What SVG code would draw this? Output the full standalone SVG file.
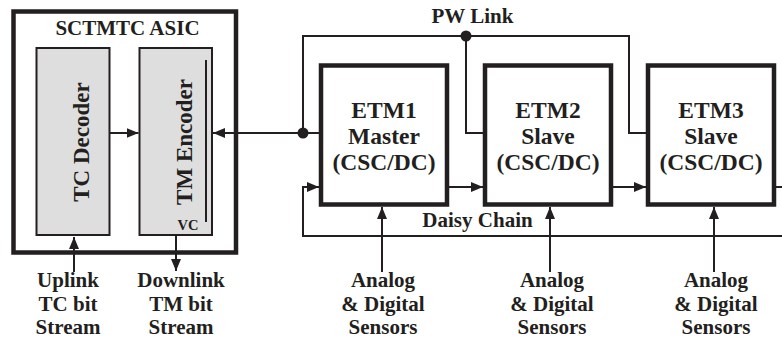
<svg xmlns="http://www.w3.org/2000/svg" width="782" height="339" viewBox="0 0 782 339">
  <style>
    .t { font-family: "Liberation Serif", "Times New Roman", "DejaVu Serif", serif; font-weight: bold; fill: #231f20; text-anchor: middle; }
    .box { fill: #ffffff; stroke: #231f20; stroke-width: 4.5; }
    .blk { fill: #dedede; stroke: #231f20; stroke-width: 2; }
    .ln { fill: none; stroke: #231f20; stroke-width: 2; }
    .arr { fill: none; stroke: #231f20; stroke-width: 2; marker-end: url(#ah); }
    .dot { fill: #231f20; }
  </style>
  <defs>
    <marker id="ah" markerUnits="userSpaceOnUse" markerWidth="13" markerHeight="11" refX="12" refY="5" orient="auto">
      <path d="M0,0 L12,5 L0,10 Z" fill="#231f20"/>
    </marker>
  </defs>

  <rect width="782" height="339" fill="#ffffff"/>

  <!-- ASIC enclosure with its two internal blocks -->
  <g id="asic">
    <rect class="box" x="13.5" y="11.5" width="222.5" height="241"/>
    <text class="t" x="127.5" y="35" font-size="21">SCTMTC ASIC</text>
  </g>
  <g id="tc-decoder">
    <rect class="blk" x="36.5" y="48" width="73" height="187"/>
    <text class="t" font-size="23" transform="translate(89,142) rotate(-90)">TC Decoder</text>
  </g>
  <g id="tm-encoder">
    <rect class="blk" x="139.5" y="48" width="72.5" height="187"/>
    <text class="t" font-size="23" transform="translate(191.5,142) rotate(-90)">TM Encoder</text>
    <line class="ln" x1="206" y1="60" x2="206" y2="222" stroke-width="1.6"/>
    <text class="t" x="188" y="230" font-size="14.5">VC</text>
  </g>

  <!-- Embedded terminal modules -->
  <g id="etm1">
    <rect class="box" x="321" y="65.5" width="126" height="139" stroke-width="4"/>
    <text class="t" x="384" y="118" font-size="23.5">ETM1</text>
    <text class="t" x="384" y="144" font-size="23.5">Master</text>
    <text class="t" x="384" y="170" font-size="23.5">(CSC/DC)</text>
  </g>
  <g id="etm2">
    <rect class="box" x="485" y="65.5" width="126" height="139" stroke-width="4"/>
    <text class="t" x="548" y="118" font-size="23.5">ETM2</text>
    <text class="t" x="548" y="144" font-size="23.5">Slave</text>
    <text class="t" x="548" y="170" font-size="23.5">(CSC/DC)</text>
  </g>
  <g id="etm3">
    <rect class="box" x="648" y="65.5" width="126" height="139" stroke-width="4"/>
    <text class="t" x="711" y="118" font-size="23.5">ETM3</text>
    <text class="t" x="711" y="144" font-size="23.5">Slave</text>
    <text class="t" x="711" y="170" font-size="23.5">(CSC/DC)</text>
  </g>

  <!-- Connectors -->
  <g id="connectors">
    <!-- internal ASIC path -->
    <line class="arr" x1="110" y1="133" x2="138.5" y2="133"/>
    <!-- PW link bus -->
    <path class="ln" d="M319,133 H303 V36 H629 V133 H646"/>
    <path class="ln" d="M466,36 V133 H483"/>
    <line class="arr" x1="303" y1="133" x2="213" y2="133"/>
    <circle class="dot" cx="303" cy="133" r="5.5"/>
    <circle class="dot" cx="466" cy="36" r="5.5"/>
    <text class="t" x="472.5" y="23" font-size="21">PW Link</text>
    <!-- daisy chain -->
    <line class="arr" x1="449" y1="187" x2="483" y2="187"/>
    <line class="arr" x1="613" y1="187" x2="646" y2="187"/>
    <line class="ln" x1="776" y1="187" x2="782" y2="187"/>
    <path class="arr" d="M782,236 H303 V187 H319"/>
    <text class="t" x="477.5" y="227" font-size="21">Daisy Chain</text>
    <!-- ground link streams -->
    <line class="arr" x1="74" y1="272" x2="74" y2="237"/>
    <line class="arr" x1="176" y1="236" x2="176" y2="271"/>
    <!-- sensor inputs -->
    <line class="arr" x1="382" y1="272" x2="382" y2="207"/>
    <line class="arr" x1="550" y1="272" x2="550" y2="207"/>
    <line class="arr" x1="714" y1="272" x2="714" y2="207"/>
  </g>

  <!-- Stream and sensor labels -->
  <g id="label-uplink">
    <text class="t" x="68" y="287" font-size="21">Uplink</text>
    <text class="t" x="68" y="311" font-size="21">TC bit</text>
    <text class="t" x="68" y="334" font-size="21">Stream</text>
  </g>
  <g id="label-downlink">
    <text class="t" x="181" y="287" font-size="21">Downlink</text>
    <text class="t" x="181" y="311" font-size="21">TM bit</text>
    <text class="t" x="181" y="334" font-size="21">Stream</text>
  </g>
  <g id="sensors-1">
    <text class="t" x="383" y="287" font-size="21">Analog</text>
    <text class="t" x="383" y="311" font-size="21">&amp; Digital</text>
    <text class="t" x="383" y="334" font-size="21">Sensors</text>
  </g>
  <g id="sensors-2">
    <text class="t" x="552" y="287" font-size="21">Analog</text>
    <text class="t" x="552" y="311" font-size="21">&amp; Digital</text>
    <text class="t" x="552" y="334" font-size="21">Sensors</text>
  </g>
  <g id="sensors-3">
    <text class="t" x="716" y="287" font-size="21">Analog</text>
    <text class="t" x="716" y="311" font-size="21">&amp; Digital</text>
    <text class="t" x="716" y="334" font-size="21">Sensors</text>
  </g>
</svg>
